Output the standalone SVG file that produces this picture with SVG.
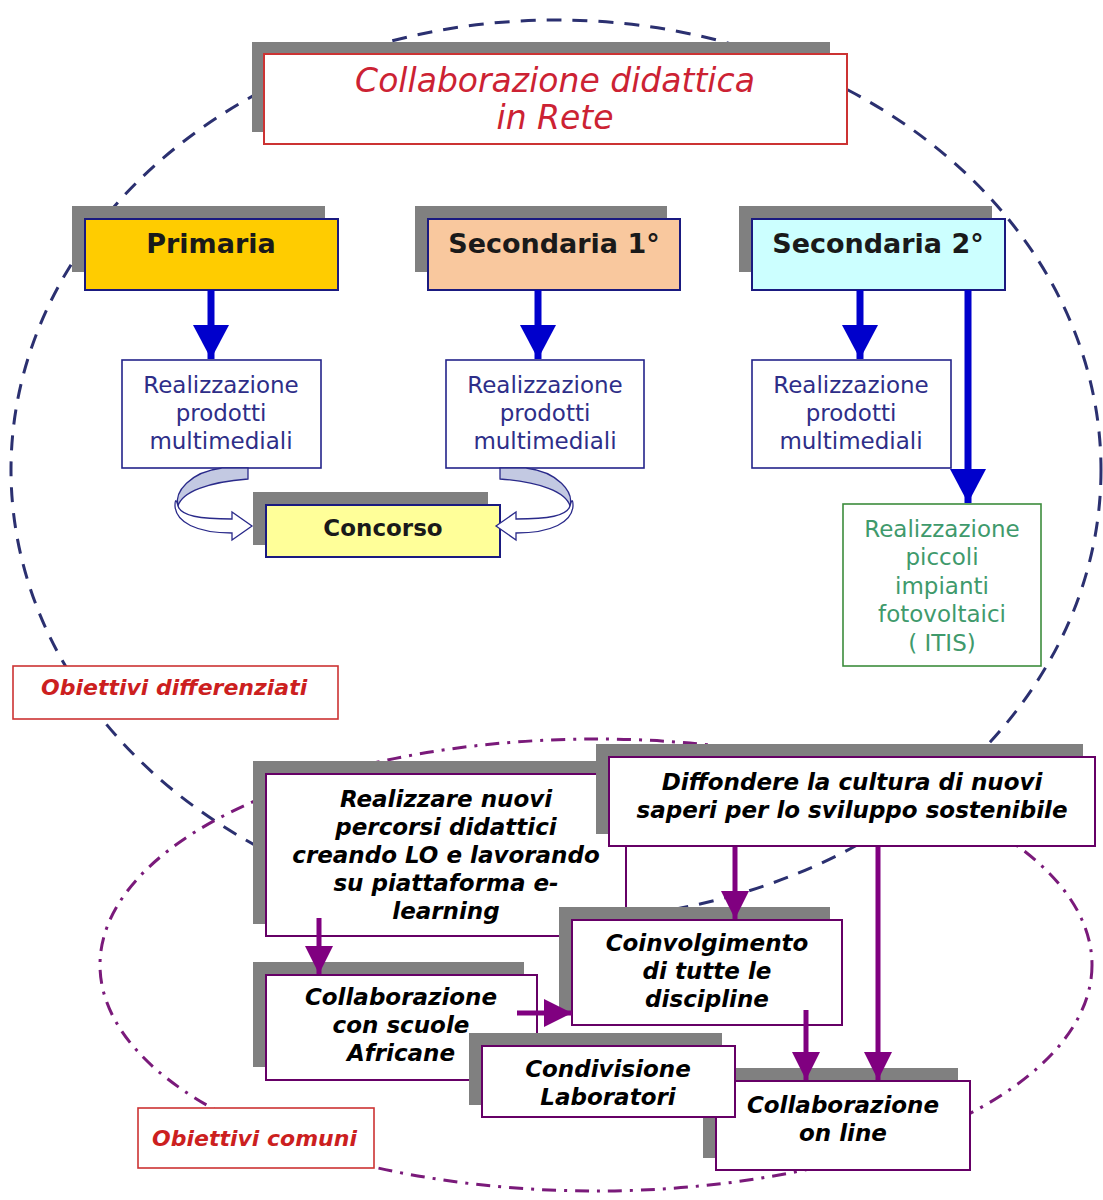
<svg xmlns="http://www.w3.org/2000/svg" width="1103" height="1200" viewBox="0 0 1103 1200">
<style>
text{font-family:"DejaVu Sans",Verdana,sans-serif;text-anchor:middle}
.sh{fill:#808080}
.title{fill:#fff;stroke:#cc3333;stroke-width:2}
.tt{fill:#cc2233;font-style:italic;font-size:33px}
.lvl{stroke:#1a1a80;stroke-width:2}
.lt{fill:#1a1a1a;font-weight:bold;font-size:27px}
.rb{fill:#fff;stroke:#24248a;stroke-width:1.6}
.rt{fill:#2e2e88;font-size:23px}
.gb{fill:#fff;stroke:#3c8c3c;stroke-width:1.6}
.gt{fill:#3f9a6c;font-size:23px}
.lab{fill:#fff;stroke:#cc3333;stroke-width:1.6}
.labt{fill:#cc1f1f;font-weight:bold;font-style:italic;font-size:22px;text-anchor:start}
.pb{fill:#fff;stroke:#660066;stroke-width:2}
.pt{fill:#000;font-weight:bold;font-style:italic;font-size:23px}
.ba{stroke:#0000cc;stroke-width:7;fill:none}
.pa{stroke:#800080;stroke-width:5;fill:none}
.cb{fill:#c3c9e2;stroke:#2a2a8a;stroke-width:1.3}
.cf{fill:#fff;stroke:#2a2a8a;stroke-width:1.3}
</style>
<defs>
<marker id="bh" markerUnits="userSpaceOnUse" viewBox="0 0 34 36" refX="34" refY="18" markerWidth="34" markerHeight="36" orient="auto"><path d="M0,0 L34,18 L0,36 Z" fill="#0000cc"/></marker>
<marker id="ph" markerUnits="userSpaceOnUse" viewBox="0 0 28 28" refX="28" refY="14" markerWidth="28" markerHeight="28" orient="auto"><path d="M0,0 L28,14 L0,28 Z" fill="#800080"/></marker>
</defs>
<rect width="1103" height="1200" fill="#fff"/>
<g id="frames" fill="none">
<ellipse cx="556" cy="470" rx="545" ry="450" stroke="#2b3070" stroke-width="3" stroke-dasharray="15 11"/>
<ellipse cx="596" cy="965" rx="496" ry="226" stroke="#7a1a7a" stroke-width="3" stroke-dasharray="14 8 3 8"/>
</g>
<g id="title">
<rect class="sh" x="252" y="42" width="578" height="90"/>
<rect class="title" x="264" y="54" width="583" height="90"/>
<text class="tt" x="555" y="92">Collaborazione didattica</text>
<text class="tt" x="555" y="129">in Rete</text>
</g>
<g id="primaria">
<rect class="sh" x="72" y="206" width="253" height="66"/>
<rect class="lvl" x="85" y="219" width="253" height="71" fill="#ffcc00"/>
<text class="lt" x="211" y="253">Primaria</text>
</g>
<g id="secondaria1">
<rect class="sh" x="415" y="206" width="252" height="66"/>
<rect class="lvl" x="428" y="219" width="252" height="71" fill="#f9c89e"/>
<text class="lt" x="554" y="253">Secondaria 1°</text>
</g>
<g id="secondaria2">
<rect class="sh" x="739" y="206" width="253" height="66"/>
<rect class="lvl" x="752" y="219" width="253" height="71" fill="#ccffff"/>
<text class="lt" x="878" y="253">Secondaria 2°</text>
</g>
<g id="real1">
<rect class="rb" x="122" y="360" width="199" height="108"/>
<text class="rt" x="221" y="393">Realizzazione</text>
<text class="rt" x="221" y="421">prodotti</text>
<text class="rt" x="221" y="449">multimediali</text>
</g>
<g id="real2">
<rect class="rb" x="446" y="360" width="198" height="108"/>
<text class="rt" x="545" y="393">Realizzazione</text>
<text class="rt" x="545" y="421">prodotti</text>
<text class="rt" x="545" y="449">multimediali</text>
</g>
<g id="real3">
<rect class="rb" x="752" y="360" width="199" height="108"/>
<text class="rt" x="851" y="393">Realizzazione</text>
<text class="rt" x="851" y="421">prodotti</text>
<text class="rt" x="851" y="449">multimediali</text>
</g>
<g id="concorso">
<rect class="sh" x="253" y="492" width="235" height="53"/>
<rect class="lvl" x="266" y="505" width="234" height="52" fill="#ffff99" stroke-width="1.6"/>
<text x="383" y="536" fill="#1a1a1a" font-weight="bold" font-size="23px">Concorso</text>
</g>
<g id="fotovoltaici">
<rect class="gb" x="843" y="504" width="198" height="162"/>
<text class="gt" x="942" y="537">Realizzazione</text>
<text class="gt" x="942" y="565">piccoli</text>
<text class="gt" x="942" y="594">impianti</text>
<text class="gt" x="942" y="622">fotovoltaici</text>
<text class="gt" x="942" y="651">( ITIS)</text>
</g>
<g id="obiettivi-differenziati">
<rect class="lab" x="13" y="666" width="325" height="53"/>
<text class="labt" x="41" y="695">Obiettivi differenziati</text>
</g>
<g id="realizzare">
<rect class="sh" x="253" y="761" width="360" height="163"/>
<rect class="pb" x="266" y="774" width="360" height="162"/>
<text class="pt" x="446" y="807">Realizzare nuovi</text>
<text class="pt" x="446" y="835">percorsi didattici</text>
<text class="pt" x="446" y="863">creando LO e lavorando</text>
<text class="pt" x="446" y="891">su piattaforma e-</text>
<text class="pt" x="446" y="919">learning</text>
</g>
<g id="diffondere">
<rect class="sh" x="596" y="744" width="487" height="90"/>
<rect class="pb" x="609" y="757" width="486" height="89"/>
<text class="pt" x="852" y="790">Diffondere la cultura di nuovi</text>
<text class="pt" x="852" y="818">saperi per lo sviluppo sostenibile</text>
</g>
<g id="coinvolgimento">
<rect class="sh" x="559" y="907" width="271" height="105"/>
<rect class="pb" x="572" y="920" width="270" height="105"/>
<text class="pt" x="707" y="951">Coinvolgimento</text>
<text class="pt" x="707" y="979">di tutte le</text>
<text class="pt" x="707" y="1007">discipline</text>
</g>
<g id="scuole-africane">
<rect class="sh" x="253" y="962" width="271" height="105"/>
<rect class="pb" x="266" y="975" width="271" height="105"/>
<text class="pt" x="401" y="1005">Collaborazione</text>
<text class="pt" x="401" y="1033">con scuole</text>
<text class="pt" x="401" y="1061">Africane</text>
</g>
<g id="on-line">
<rect class="sh" x="703" y="1068" width="255" height="90"/>
<rect class="pb" x="716" y="1081" width="254" height="89"/>
<text class="pt" x="843" y="1113">Collaborazione</text>
<text class="pt" x="843" y="1141">on line</text>
</g>
<g id="laboratori">
<rect class="sh" x="469" y="1033" width="253" height="72"/>
<rect class="pb" x="482" y="1046" width="253" height="71"/>
<text class="pt" x="608" y="1077">Condivisione</text>
<text class="pt" x="608" y="1105">Laboratori</text>
</g>
<g id="obiettivi-comuni">
<rect class="lab" x="138" y="1108" width="236" height="60"/>
<text class="labt" x="152" y="1146">Obiettivi comuni</text>
</g>
<g id="connectors">
<line class="ba" x1="211" y1="290" x2="211" y2="359" marker-end="url(#bh)"/>
<line class="ba" x1="538" y1="290" x2="538" y2="359" marker-end="url(#bh)"/>
<line class="ba" x1="860" y1="290" x2="860" y2="359" marker-end="url(#bh)"/>
<line class="ba" x1="968" y1="290" x2="968" y2="503" marker-end="url(#bh)"/>
<path class="cb" d="M222,468 L248,468 L248,479 C208,482 182,492 178,506 C174,492 190,472 222,468 Z"/>
<path class="cf" d="M178,506 C181,516 200,519 232,519 L232,512 L252,526 L232,540 L232,533 C196,533 176,522 175,506 C175,500 176,498 178,506 Z"/>
<path class="cb" d="M526,468 L500,468 L500,479 C540,482 566,492 570,506 C574,492 558,472 526,468 Z"/>
<path class="cf" d="M570,506 C567,516 548,519 516,519 L516,512 L496,526 L516,540 L516,533 C552,533 572,522 573,506 C573,500 572,498 570,506 Z"/>
<line class="pa" x1="319" y1="918" x2="319" y2="974" marker-end="url(#ph)"/>
<line class="pa" x1="517" y1="1013" x2="572" y2="1013" marker-end="url(#ph)"/>
<line class="pa" x1="735" y1="847" x2="735" y2="919" marker-end="url(#ph)"/>
<line class="pa" x1="878" y1="847" x2="878" y2="1080" marker-end="url(#ph)"/>
<line class="pa" x1="806" y1="1010" x2="806" y2="1080" marker-end="url(#ph)"/>
</g>
</svg>
